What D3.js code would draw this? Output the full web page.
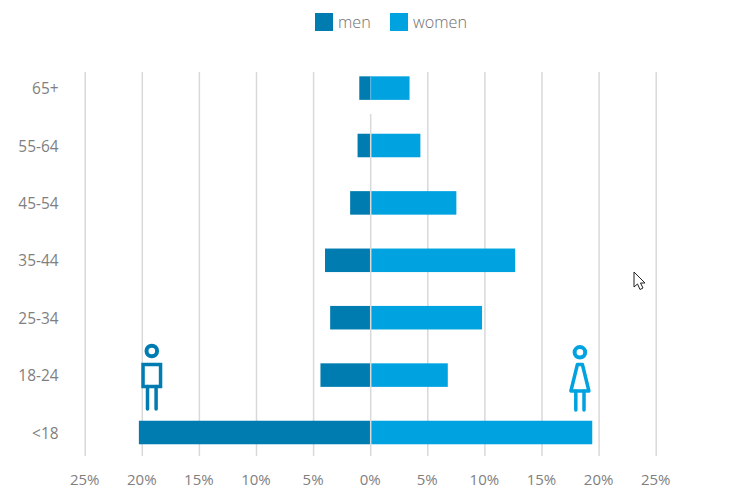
<!DOCTYPE html>
<html><head><meta charset="utf-8">
<script src="https://cdn.jsdelivr.net/npm/d3@7/dist/d3.min.js"></script>
<style>
html,body{margin:0;padding:0;background:#fff}
svg{display:block}
text{font-family:"Open Sans",sans-serif;fill:#7f7f7f;font-size:15px}
</style></head><body>
<script>
const categories = ["65+","55-64","45-54","35-44","25-34","18-24","<18"];
const menValues = [1.0,1.15,1.8,4.0,3.55,4.4,20.3];
const womenValues = [3.4,4.35,7.5,12.65,9.75,6.75,19.4];
const tickValues = [-25,-20,-15,-10,-5,0,5,10,15,20,25];
const seriesNames = ["men","women"];
const seriesColors = ["#007cb0","#00a3e0"];
const gridColor = "#d9d9d9";

const W=750,H=493;
const svg=d3.select("body").append("svg").attr("width",W).attr("height",H);
const x=d3.scaleLinear().domain([-25,25]).range([85.2,656.2]);
const y=d3.scaleBand().domain(categories).range([59.4,461.2]).paddingInner(0.59).paddingOuter(0.295);
const gridTop=72,gridBottom=456;
const yC=c=>y(c)+y.bandwidth()/2;

// grid
svg.append("g").selectAll("line").data(tickValues.filter(d=>d!==0)).join("line")
  .attr("x1",d=>x(d)).attr("x2",d=>x(d)).attr("y1",gridTop).attr("y2",gridBottom)
  .attr("stroke",gridColor).attr("stroke-width",1.5);

// bars
svg.append("g").selectAll("rect").data(categories).join("rect")
  .attr("x",(c,i)=>x(-menValues[i])).attr("width",(c,i)=>x(0)-x(-menValues[i]))
  .attr("y",c=>y(c)).attr("height",y.bandwidth()).attr("fill",seriesColors[0]);
svg.append("g").selectAll("rect").data(categories).join("rect")
  .attr("x",x(0)).attr("width",(c,i)=>x(womenValues[i])-x(0))
  .attr("y",c=>y(c)).attr("height",y.bandwidth()).attr("fill",seriesColors[1]);

// centre axis
svg.append("line").attr("x1",x(0)).attr("x2",x(0)).attr("y1",114).attr("y2",gridBottom)
  .attr("stroke",gridColor).attr("stroke-width",1.5);
svg.append("line").attr("x1",x(0)).attr("x2",x(0)).attr("y1",y("65+")).attr("y2",y("65+")+y.bandwidth())
  .attr("stroke","#5cb8de").attr("stroke-width",1);

// tick labels
svg.append("g").selectAll("text").data(tickValues).join("text")
  .attr("x",d=>x(d)-0.5).attr("y",485).attr("text-anchor","middle")
  .text(d=>Math.abs(d)+"%");
svg.append("g").selectAll("text").data(categories).join("text")
  .attr("x",58.5).attr("y",c=>yC(c)+6).attr("text-anchor","end").style("font-size","15.4px").text(c=>c);

// legend
const legendX=[315,390];
const lg=svg.append("g").selectAll("g").data(seriesNames).join("g")
  .attr("transform",(d,i)=>`translate(${legendX[i]},13)`);
lg.append("rect").attr("width",18).attr("height",18).attr("fill",(d,i)=>seriesColors[i]);
lg.append("text").attr("x",23).attr("y",14.5).style("font-size","16.2px").style("font-weight",300).style("fill","#6e6e6e").text(d=>d);

// man icon
const man=svg.append("g").attr("transform",`translate(${x(-20)+9.5},0)`)
  .attr("fill","none").attr("stroke",seriesColors[0]).attr("stroke-width",3.5);
man.append("circle").attr("cx",0).attr("cy",351).attr("r",5.3).attr("stroke-width",4);
man.append("rect").attr("x",-8.75).attr("y",364.5).attr("width",17.5).attr("height",22);
man.append("path").attr("d","M-4.3,386.5V409M4.3,386.5V409").attr("stroke-linecap","round");

// woman icon
const woman=svg.append("g").attr("transform",`translate(${x(20)-19.2},0)`)
  .attr("fill","none").attr("stroke",seriesColors[1]).attr("stroke-width",3.5);
woman.append("circle").attr("cx",0).attr("cy",352.3).attr("r",5.3).attr("stroke-width",4);
woman.append("path").attr("d","M-2.5,364.5H2.5L9,391H-9Z").attr("stroke-linejoin","round");
woman.append("path").attr("d","M-4.1,391V410M4.1,391V410").attr("stroke-linecap","round");

// cursor
svg.append("path").attr("transform","translate(634,272)")
  .attr("d","M0,0V15L3.5,12L6,17.5L9,16L6.5,11H11Z")
  .attr("fill","#fff").attr("stroke","#222").attr("stroke-width",1).attr("stroke-linejoin","round");
</script>
</body></html>
